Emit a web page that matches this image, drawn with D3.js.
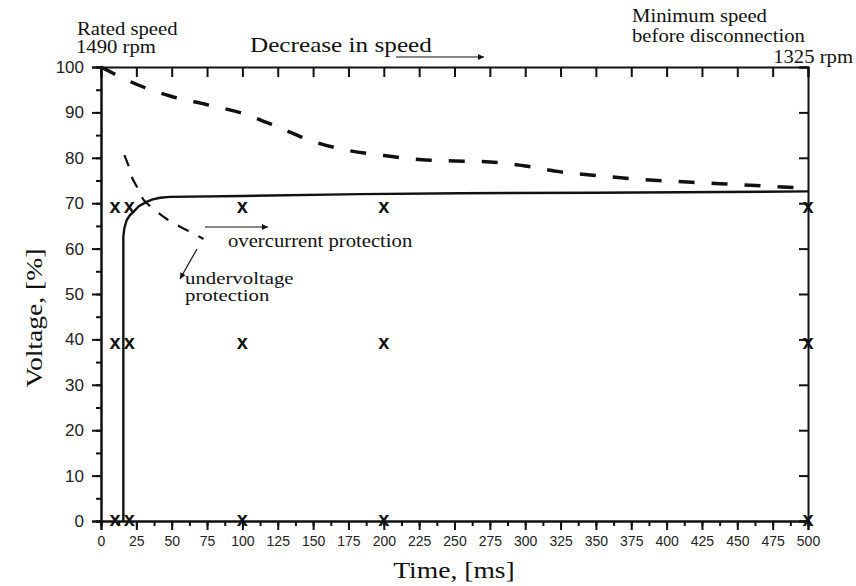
<!DOCTYPE html>
<html>
<head>
<meta charset="utf-8">
<script src="https://cdn.jsdelivr.net/npm/d3@7"></script>
<style>
  body { margin: 0; background: #fff; }
  svg { display: block; }
  .tick text { font-family: "Liberation Sans", Arial, sans-serif; fill: #222; }
  .serif { font-family: "Liberation Serif", "Times New Roman", serif; fill: #111; }
</style>
</head>
<body>
<div id="chart"></div>
<script>
// speed-related dashed curve (upper)
const speedCurve = [
  [0, 100], [25, 96.2], [50, 93.5], [75, 91.7], [100, 89.8], [125, 86.8],
  [150, 83.6], [175, 81.6], [200, 80.5], [225, 79.6], [250, 79.3], [275, 79.1],
  [300, 78.2], [325, 76.9], [350, 76.1], [375, 75.4], [400, 74.9], [425, 74.5],
  [450, 74.1], [475, 73.7], [500, 73.3]
];
// overcurrent protection (solid)
const overcurrent = [
  [15.8, 0], [15.8, 62.6], [16.5, 64.5], [18.2, 66.3], [20.5, 67.4], [22.9, 68.1],
  [27, 69.4], [32.3, 70.3], [36, 70.8], [41.7, 71.2], [48.8, 71.4], [100, 71.6],
  [183, 72], [254, 72.2], [350, 72.3], [500, 72.6]
];
// undervoltage protection (short dashes)
const undervoltage = [
  [16.5, 80.6], [19.3, 78.4], [22, 75.6], [26.5, 73], [30, 70.8], [40, 68],
  [47, 66.4], [56, 64.8], [65, 63.4], [72.5, 62.1]
];
// test points
const testTimes = [10, 20, 100, 200, 500];
const testLevels = [69, 39, 0];

const xTicks = d3.range(0, 501, 25);
const xMinor = d3.range(0, 501, 12.5);
const yTicks = d3.range(0, 101, 10);
const yMinor = d3.range(0, 101, 5);

const W = 856, H = 586;
const margin = { top: 67, right: 48, bottom: 65, left: 101 };
const pw = W - margin.left - margin.right;
const ph = H - margin.top - margin.bottom;

const svg = d3.select('#chart').append('svg')
  .attr('width', W).attr('height', H);
const g = svg.append('g').attr('transform', `translate(${margin.left},${margin.top})`);

const x = d3.scaleLinear().domain([0, 500]).range([0, pw]);
const y = d3.scaleLinear().domain([0, 100]).range([ph, 0]);

function styleAxis(sel) {
  sel.select('.domain').attr('stroke', '#111').attr('stroke-width', 2);
  sel.selectAll('.tick line').attr('stroke', '#111').attr('stroke-width', 2);
}

// minor ticks
g.append('g').attr('transform', `translate(0,${ph})`)
  .call(d3.axisBottom(x).tickValues(xMinor).tickSize(5).tickFormat(''))
  .call(styleAxis);
g.append('g')
  .call(d3.axisLeft(y).tickValues(yMinor).tickSize(5).tickFormat(''))
  .call(styleAxis);

// major axes
g.append('g').attr('transform', `translate(0,${ph})`)
  .call(d3.axisBottom(x).tickValues(xTicks).tickSize(9).tickPadding(6))
  .call(styleAxis)
  .call(a => a.selectAll('.tick text').attr('font-size', 14));
g.append('g')
  .call(d3.axisLeft(y).tickValues(yTicks).tickSize(9).tickPadding(8))
  .call(styleAxis)
  .call(a => a.selectAll('.tick text').attr('font-size', 17));
g.append('g')
  .call(d3.axisTop(x).tickValues(xTicks).tickSize(-10).tickFormat(''))
  .call(styleAxis);
g.append('g').attr('transform', `translate(${pw},0)`)
  .call(d3.axisRight(y).tickValues(yTicks).tickSize(-9).tickFormat(''))
  .call(styleAxis);

const line = d3.line().x(d => x(d[0])).y(d => y(d[1]));

g.append('path').datum(speedCurve)
  .attr('d', line.curve(d3.curveMonotoneX))
  .attr('fill', 'none')
  .attr('stroke', '#111').attr('stroke-width', 3.5)
  .attr('stroke-dasharray', '16,17');

g.append('path').datum(overcurrent)
  .attr('d', d3.line().x(d => x(d[0])).y(d => y(d[1])))
  .attr('fill', 'none').attr('stroke', '#111').attr('stroke-width', 2.4);

g.append('path').datum(undervoltage)
  .attr('d', d3.line().x(d => x(d[0])).y(d => y(d[1])).curve(d3.curveCatmullRom))
  .attr('fill', 'none').attr('stroke', '#111').attr('stroke-width', 2.2)
  .attr('stroke-dasharray', '12,11');

// test point markers
const pts = [];
testLevels.forEach(v => testTimes.forEach(t => pts.push([t, v])));
g.append('g').selectAll('text').data(pts).join('text')
  .attr('x', d => x(d[0])).attr('y', d => y(d[1]))
  .attr('dy', '0.27em').attr('text-anchor', 'middle')
  .attr('font-family', '"Liberation Sans", Arial, sans-serif')
  .attr('font-weight', 'bold').attr('font-size', 20)
  .attr('fill', '#111')
  .text('x');

// arrows
const defs = svg.append('defs');
defs.append('marker').attr('id', 'arr')
  .attr('viewBox', '0 0 10 10').attr('refX', 10).attr('refY', 5)
  .attr('markerWidth', 11).attr('markerHeight', 6)
  .attr('markerUnits', 'userSpaceOnUse')
  .attr('orient', 'auto')
  .append('path').attr('d', 'M0,0 L10,5 L0,10 Z').attr('fill', '#111');

function arrow(x1, y1, x2, y2) {
  svg.append('line')
    .attr('x1', x1).attr('y1', y1).attr('x2', x2).attr('y2', y2)
    .attr('stroke', '#111').attr('stroke-width', 1.2)
    .attr('marker-end', 'url(#arr)');
}

// serif annotation, slightly widened like the scanned figure
function label(txt, xx, yy, size, anchor, sx) {
  svg.append('text').attr('class', 'serif')
    .attr('transform', `translate(${xx},${yy}) scale(${sx || 1.15},1)`)
    .attr('font-size', size)
    .attr('text-anchor', anchor || 'start')
    .text(txt);
}

label('Rated speed', 77, 35, 18);
label('1490 rpm', 76, 53, 18);
label('Decrease in speed', 250, 52, 21, 'start', 1.2);
arrow(396, 57, 484, 57);
label('Minimum speed', 632, 22, 18);
label('before disconnection', 632, 42, 18);
label('1325 rpm', 853, 63, 18, 'end');

arrow(205, 227, 268, 227);
label('overcurrent protection', 228, 247, 18);
arrow(197, 249, 180, 279);
label('undervoltage', 185, 284, 16, 'start', 1.3);
label('protection', 185, 301, 16, 'start', 1.3);

// axis titles
label('Time, [ms]', 454, 578, 23, 'middle', 1.2);
svg.append('text').attr('class', 'serif')
  .attr('transform', `translate(42,318) rotate(-90) scale(1.2,1)`)
  .attr('text-anchor', 'middle').attr('font-size', 23)
  .text('Voltage, [%]');
</script>
</body>
</html>
